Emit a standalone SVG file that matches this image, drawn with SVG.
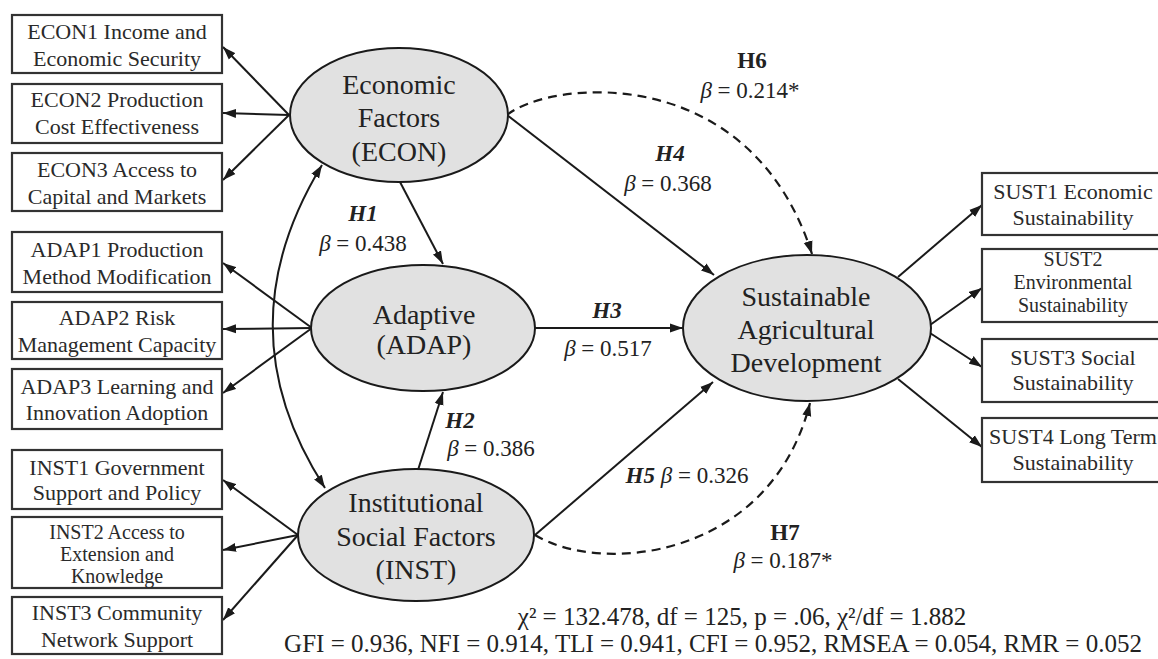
<svg xmlns="http://www.w3.org/2000/svg" width="1158" height="659" viewBox="0 0 1158 659">
<defs>
<marker id="ah" markerUnits="userSpaceOnUse" markerWidth="14" markerHeight="10" refX="13" refY="5" orient="auto-start-reverse">
<path d="M0,0.5 L13,5 L0,9.5 z" fill="#1a1a1a"/>
</marker>
</defs>
<style>
.box{fill:#fff;stroke:#333;stroke-width:2.2}
.ell{fill:#e1e1e1;stroke:#1a1a1a;stroke-width:2}
.bt{font-family:"Liberation Serif","Times New Roman",serif;font-size:22px;fill:#2a2a2a;text-anchor:middle}
.bs{font-size:20px}
.et{font-family:"Liberation Serif","Times New Roman",serif;font-size:28px;fill:#222;text-anchor:middle}
.lt{font-family:"Liberation Serif","Times New Roman",serif;font-size:23px;fill:#222;text-anchor:middle}
.ft{font-family:"Liberation Serif","Times New Roman",serif;font-size:25px;fill:#222;text-anchor:middle}
.hb{font-weight:bold;font-style:italic}
.hn{font-weight:bold}
.it{font-style:italic}
.ln{fill:none;stroke:#1a1a1a;stroke-width:2;marker-end:url(#ah)}
.ds{fill:none;stroke:#1a1a1a;stroke-width:2.2;stroke-dasharray:9 6;marker-end:url(#ah)}
</style>
<rect width="1158" height="659" fill="#fff"/>
<g id="connectors">
<line class="ln" x1="289" y1="115" x2="223" y2="47"/>
<line class="ln" x1="289" y1="115" x2="223" y2="113"/>
<line class="ln" x1="289" y1="115" x2="223" y2="180"/>
<line class="ln" x1="312" y1="328" x2="223" y2="263"/>
<line class="ln" x1="312" y1="328" x2="223" y2="329"/>
<line class="ln" x1="312" y1="328" x2="223" y2="393"/>
<line class="ln" x1="298" y1="535" x2="223" y2="480"/>
<line class="ln" x1="298" y1="535" x2="223" y2="550"/>
<line class="ln" x1="298" y1="535" x2="223" y2="620"/>
<path class="ln" style="marker-start:url(#ah)" d="M322,165 Q222,329 325,488"/>
<line class="ln" x1="400" y1="182" x2="443" y2="264"/>
<line class="ln" x1="418" y1="470" x2="443" y2="392"/>
<line class="ln" x1="535" y1="328" x2="683" y2="328"/>
<line class="ln" x1="507" y1="115" x2="714" y2="275"/>
<line class="ln" x1="535" y1="535" x2="713" y2="382"/>
<path class="ds" d="M507,115 C550,80 750,60 812,254"/>
<path class="ds" d="M535,535 C600,575 770,560 810,403"/>
<line class="ln" x1="898" y1="277" x2="982" y2="205"/>
<line class="ln" x1="930" y1="325" x2="982" y2="288"/>
<line class="ln" x1="930" y1="333" x2="982" y2="367"/>
<line class="ln" x1="898" y1="379" x2="982" y2="447"/>
</g>
<g id="econ1"><rect class="box" x="12" y="15" width="210" height="58"/><text class="bt" x="117" y="39">ECON1 Income and</text><text class="bt" x="117" y="66">Economic Security</text></g>
<g id="econ2"><rect class="box" x="12" y="84" width="210" height="59"/><text class="bt" x="117" y="107">ECON2 Production</text><text class="bt" x="117" y="134">Cost Effectiveness</text></g>
<g id="econ3"><rect class="box" x="12" y="153" width="210" height="58"/><text class="bt" x="117" y="177">ECON3 Access to</text><text class="bt" x="117" y="204">Capital and Markets</text></g>
<g id="adap1"><rect class="box" x="12" y="232" width="210" height="60"/><text class="bt" x="117" y="257">ADAP1 Production</text><text class="bt" x="117" y="284">Method Modification</text></g>
<g id="adap2"><rect class="box" x="12" y="302" width="210" height="57"/><text class="bt" x="117" y="325">ADAP2 Risk</text><text class="bt" x="117" y="352">Management Capacity</text></g>
<g id="adap3"><rect class="box" x="12" y="369" width="210" height="60"/><text class="bt" x="117" y="394">ADAP3 Learning and</text><text class="bt" x="117" y="420">Innovation Adoption</text></g>
<g id="inst1"><rect class="box" x="12" y="450" width="210" height="59"/><text class="bt" x="117" y="475">INST1 Government</text><text class="bt" x="117" y="500">Support and Policy</text></g>
<g id="inst2"><rect class="box" x="12" y="517" width="210" height="71"/><text class="bt bs" x="117" y="539">INST2 Access to</text><text class="bt bs" x="117" y="561">Extension and</text><text class="bt bs" x="117" y="583">Knowledge</text></g>
<g id="inst3"><rect class="box" x="12" y="597" width="210" height="57"/><text class="bt" x="117" y="620">INST3 Community</text><text class="bt" x="117" y="647">Network Support</text></g>
<g id="econ"><ellipse class="ell" cx="399" cy="115" rx="109" ry="67"/><text class="et" x="399" y="94">Economic</text><text class="et" x="399" y="127">Factors</text><text class="et" x="399" y="161">(ECON)</text></g>
<g id="adap"><ellipse class="ell" cx="423" cy="328" rx="112" ry="63"/><text class="et" x="424" y="324">Adaptive</text><text class="et" x="424" y="354">(ADAP)</text></g>
<g id="inst"><ellipse class="ell" cx="416" cy="535" rx="118" ry="66"/><text class="et" x="416" y="512">Institutional</text><text class="et" x="416" y="546">Social Factors</text><text class="et" x="416" y="579">(INST)</text></g>
<g id="sust"><ellipse class="ell" cx="807" cy="328" rx="124" ry="73"/><text class="et" x="806" y="306">Sustainable</text><text class="et" x="806" y="339">Agricultural</text><text class="et" x="806" y="372">Development</text></g>
<g id="sust1"><rect class="box" x="982" y="173" width="182" height="62"/><text class="bt" x="1073" y="199">SUST1 Economic</text><text class="bt" x="1073" y="225">Sustainability</text></g>
<g id="sust2"><rect class="box" x="982" y="249" width="182" height="73"/><text class="bt bs" x="1073" y="266">SUST2</text><text class="bt bs" x="1073" y="289">Environmental</text><text class="bt bs" x="1073" y="312">Sustainability</text></g>
<g id="sust3"><rect class="box" x="982" y="339" width="182" height="63"/><text class="bt" x="1073" y="365">SUST3 Social</text><text class="bt" x="1073" y="390">Sustainability</text></g>
<g id="sust4"><rect class="box" x="982" y="418" width="182" height="64"/><text class="bt" x="1073" y="444">SUST4 Long Term</text><text class="bt" x="1073" y="470">Sustainability</text></g>
<g id="labels">
<text class="lt hb" x="363" y="221">H1</text>
<text class="lt" x="363" y="251"><tspan class="it">β</tspan> = 0.438</text>
<text class="lt hb" x="460" y="428">H2</text>
<text class="lt" x="491" y="456"><tspan class="it">β</tspan> = 0.386</text>
<text class="lt hb" x="607" y="318">H3</text>
<text class="lt" x="608" y="356"><tspan class="it">β</tspan> = 0.517</text>
<text class="lt hb" x="670" y="161">H4</text>
<text class="lt" x="668" y="191"><tspan class="it">β</tspan> = 0.368</text>
<text class="lt" x="687" y="483"><tspan class="hb">H5</tspan> <tspan class="it">β</tspan> = 0.326</text>
<text class="lt hn" x="752" y="68">H6</text>
<text class="lt" x="750" y="98"><tspan class="it">β</tspan> = 0.214*</text>
<text class="lt hn" x="785" y="540">H7</text>
<text class="lt" x="783" y="568"><tspan class="it">β</tspan> = 0.187*</text>
</g>
<g id="fit">
<text class="ft" x="742" y="625">χ² = 132.478, df = 125, p = .06, χ²/df = 1.882</text>
<text class="ft" x="713" y="652">GFI = 0.936, NFI = 0.914, TLI = 0.941, CFI = 0.952, RMSEA = 0.054, RMR = 0.052</text>
</g>
</svg>
